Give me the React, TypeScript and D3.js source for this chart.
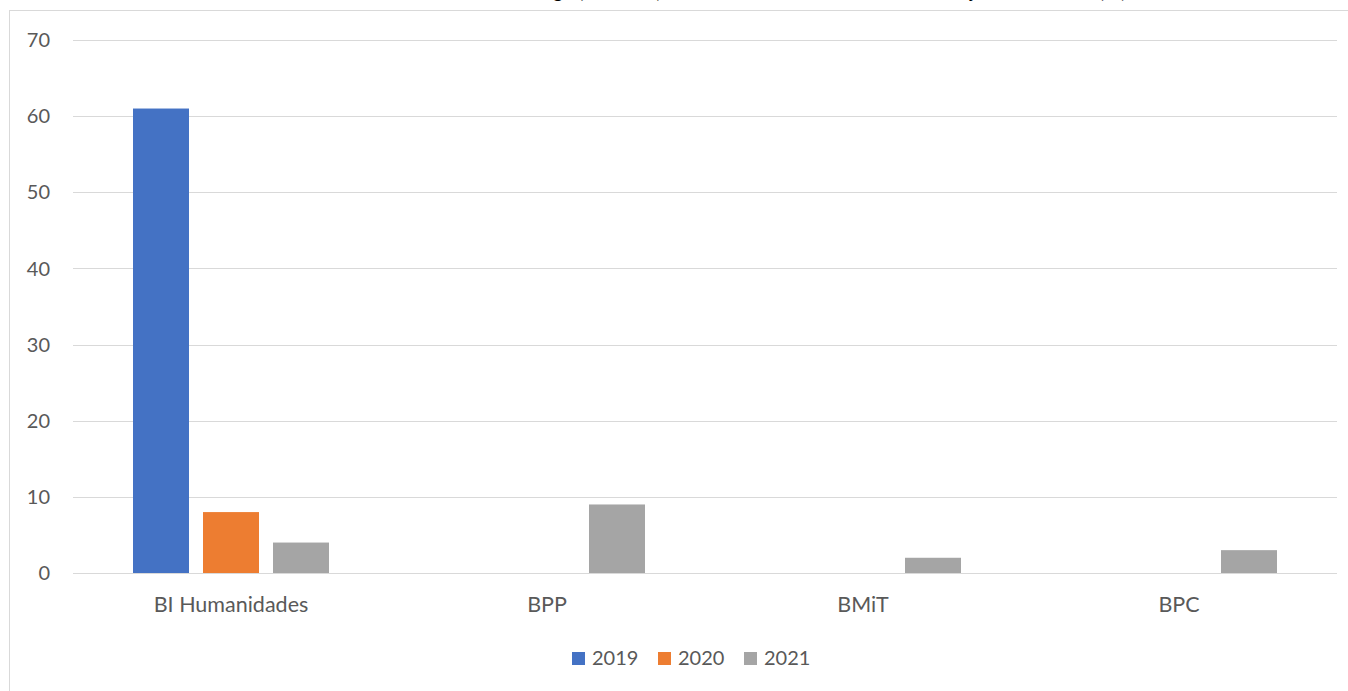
import React from "react";
import * as d3 from "d3";

const categories = ["BI Humanidades", "BPP", "BMiT", "BPC"];
const seriesNames = ["2019", "2020", "2021"];
const values2019 = [61, 0, 0, 0];
const values2020 = [8, 0, 0, 0];
const values2021 = [4, 9, 2, 3];
const yTicks = [0, 10, 20, 30, 40, 50, 60, 70];
const colors = ["#4472C4", "#ED7D31", "#A5A5A5"];

const W = 1348;
const H = 691;
const FONT = "Lato, 'Open Sans', sans-serif";
const TEXT = "#595959";

export default function App() {
  const series = [values2019, values2020, values2021];
  const left = 73, right = 1337, top = 40, bottom = 573;
  const x0 = d3.scaleBand().domain(categories).range([left, right]).paddingInner(0).paddingOuter(0);
  const groupW = 196;
  const x1 = d3.scaleBand().domain(seriesNames).range([0, groupW]).paddingInner(0.2).paddingOuter(0);
  const y = d3.scaleLinear().domain([0, 70]).range([bottom, top]);

  return (
    <svg width={W} height={H} style={{ position: "absolute", left: 0, top: 0, background: "#fff" }}>
      <rect x={0} y={0} width={W} height={H} fill="#fff" />
      {/* chart border */}
      <rect x={9.5} y={10.5} width={W + 10} height={H + 10} fill="none" stroke="#d9d9d9" strokeWidth={1} />
      {/* title (mostly clipped off the top) */}
      <g fontFamily={FONT} fontSize={19} fill="#000">
        <text x={553} y={-2} textAnchor="end">Número de estudiantes en movilidad de lar</text>
        <text x={553} y={-2}>go (2019-21) en las carreras del área de traba</text>
        <text x={970} y={-2}>jo de titulación (BI)</text>
      </g>
      {/* gridlines */}
      {yTicks.map((t) => (
        <line key={t} x1={left} x2={right} y1={Math.round(y(t)) + 0.5} y2={Math.round(y(t)) + 0.5} stroke="#d9d9d9" strokeWidth={1} />
      ))}
      {/* y tick labels */}
      {yTicks.map((t) => (
        <text key={"l" + t} x={50} y={y(t)} dy="0.36em" textAnchor="end" fontFamily={FONT} fontSize={20} fill={TEXT}>
          {t}
        </text>
      ))}
      {/* bars */}
      {categories.map((c, ci) => {
        const gx = (x0(c) as number) + x0.bandwidth() / 2 - groupW / 2;
        return (
          <g key={c}>
            {series.map((s, si) =>
              s[ci] > 0 ? (
                <rect
                  key={si}
                  x={gx + (x1(seriesNames[si]) as number)}
                  y={y(s[ci])}
                  width={x1.bandwidth()}
                  height={y(0) - y(s[ci])}
                  fill={colors[si]}
                />
              ) : null
            )}
          </g>
        );
      })}
      {/* category labels */}
      {categories.map((c) => (
        <text key={c} x={(x0(c) as number) + x0.bandwidth() / 2} y={612} textAnchor="middle" fontFamily={FONT} fontSize={21.5} fill={TEXT}>
          {c}
        </text>
      ))}
      {/* legend */}
      {seriesNames.map((n, i) => {
        const lx = 572 + i * 86;
        return (
          <g key={n}>
            <rect x={lx} y={652} width={13} height={13} fill={colors[i]} />
            <text x={lx + 20} y={665} fontFamily={FONT} fontSize={20} fill={TEXT}>
              {n}
            </text>
          </g>
        );
      })}
    </svg>
  );
}
